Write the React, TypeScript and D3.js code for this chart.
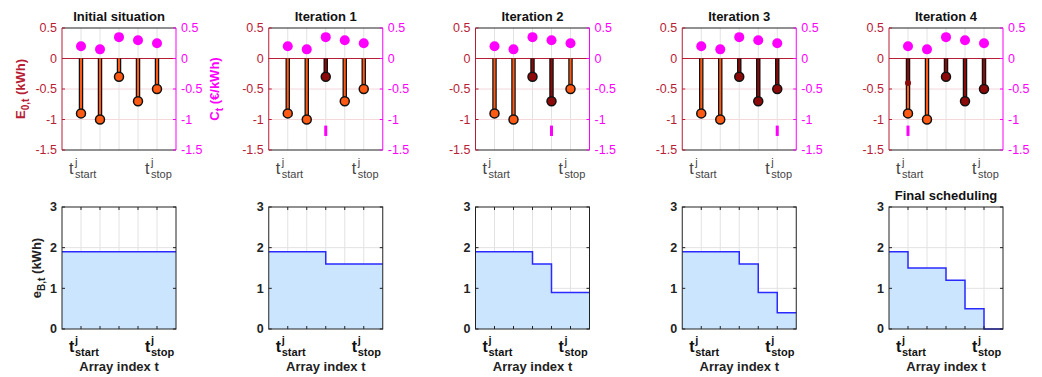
import React, { useEffect, useRef } from 'react';
import * as d3 from 'd3';

// data
const topTitles = ['Initial situation', 'Iteration 1', 'Iteration 2', 'Iteration 3', 'Iteration 4'];
const bottomTitles = ['', '', '', '', 'Final scheduling'];
const slots = [1, 2, 3, 4, 5];
const energy = [-0.9, -1, -0.3, -0.7, -0.5];
const price = [0.2, 0.15, 0.35, 0.3, 0.25];
const scheduled = [[], [3], [3, 4], [3, 4, 5], [3, 4, 5]];
const selected = [null, 3, 4, 5, 1];
const partialSlot = [null, null, null, null, 1];
const partialValue = [null, null, null, null, -0.4];
const storage = [
  [1.9, 1.9, 1.9, 1.9, 1.9, 1.9],
  [1.9, 1.9, 1.9, 1.6, 1.6, 1.6],
  [1.9, 1.9, 1.9, 1.6, 0.9, 0.9],
  [1.9, 1.9, 1.9, 1.6, 0.9, 0.4],
  [1.9, 1.5, 1.5, 1.2, 0.5, 0],
];
const topTicks = [0.5, 0, -0.5, -1, -1.5];
const bottomTicks = [0, 1, 2, 3];

const RED = '#b81d36';
const MAGENTA = '#ff00ff';
const ORANGE = '#ff5a14';
const DARKRED = '#8c0a0a';
const FONT = '"Liberation Sans", Arial, sans-serif';

export default function App() {
  const ref = useRef<SVGSVGElement>(null);

  useEffect(() => {
    draw();
  }, []);

  function tLabel(g: any, x: number, y: number, sub: string, bold: boolean) {
    const color = bold ? '#111' : '#444';
    const w = bold ? 'bold' : 'normal';
    g.append('text').attr('x', x - 12).attr('y', y).attr('font-size', 16).attr('font-weight', w).attr('fill', color).text('t');
    g.append('text').attr('x', x - 6).attr('y', y - 8).attr('font-size', 11).attr('font-weight', w).attr('fill', color).text('j');
    g.append('text').attr('x', x - 6).attr('y', y + 4).attr('font-size', 11).attr('font-weight', w).attr('fill', color).text(sub);
  }

  function draw() {
    const svg = d3.select(ref.current);
    svg.selectAll('*').remove();
    svg.attr('font-family', FONT);
    const panelX = d3.scaleLinear().domain([0, 4]).range([62, 889]);
    const pw = 114;
    const yTop = d3.scaleLinear().domain([-1.5, 0.5]).range([150, 28]);
    const yBot = d3.scaleLinear().domain([0, 3]).range([329, 207]);

    topTitles.forEach((title, p) => {
      const left = panelX(p);
      const x = d3.scaleLinear().domain([0, 6]).range([left, left + pw]);
      const g = svg.append('g');
      // grid
      slots.forEach((s) => {
        g.append('line').attr('x1', x(s)).attr('x2', x(s)).attr('y1', yTop(0.5)).attr('y2', yTop(-1.5))
          .attr('stroke', '#e2e2e2').attr('stroke-width', 1);
      });
      [-0.5, -1].forEach((v) => {
        g.append('line').attr('x1', x(0)).attr('x2', x(6)).attr('y1', yTop(v)).attr('y2', yTop(v))
          .attr('stroke', '#f3d8dc').attr('stroke-width', 1);
      });
      // zero line
      g.append('line').attr('x1', x(0)).attr('x2', x(6)).attr('y1', yTop(0)).attr('y2', yTop(0))
        .attr('stroke', RED).attr('stroke-width', 1.2);
      // box
      g.append('line').attr('x1', x(0)).attr('x2', x(6)).attr('y1', yTop(0.5)).attr('y2', yTop(0.5)).attr('stroke', '#222');
      g.append('line').attr('x1', x(0)).attr('x2', x(6)).attr('y1', yTop(-1.5)).attr('y2', yTop(-1.5)).attr('stroke', '#222');
      g.append('line').attr('x1', x(0)).attr('x2', x(0)).attr('y1', yTop(0.5)).attr('y2', yTop(-1.5)).attr('stroke', RED);
      g.append('line').attr('x1', x(6)).attr('x2', x(6)).attr('y1', yTop(0.5)).attr('y2', yTop(-1.5)).attr('stroke', MAGENTA);
      // ticks
      topTicks.forEach((v) => {
        g.append('line').attr('x1', x(0)).attr('x2', x(0) + 3).attr('y1', yTop(v)).attr('y2', yTop(v)).attr('stroke', RED);
        g.append('line').attr('x1', x(6)).attr('x2', x(6) - 3).attr('y1', yTop(v)).attr('y2', yTop(v)).attr('stroke', MAGENTA);
        g.append('text').attr('x', x(0) - 5).attr('y', yTop(v)).attr('dy', '0.35em').attr('text-anchor', 'end')
          .attr('font-size', 12.5).attr('fill', RED).text(v);
        g.append('text').attr('x', x(6) + 5).attr('y', yTop(v)).attr('dy', '0.35em').attr('text-anchor', 'start')
          .attr('font-size', 12.5).attr('fill', MAGENTA).text(v);
      });
      // prices
      g.selectAll('circle.price').data(price).enter().append('circle')
        .attr('cx', (d, i) => x(slots[i])).attr('cy', (d) => yTop(d)).attr('r', 5).attr('fill', MAGENTA);
      // stems
      energy.forEach((v, i) => {
        const s = slots[i];
        const done = scheduled[p].includes(s);
        g.append('line').attr('x1', x(s)).attr('x2', x(s)).attr('y1', yTop(0)).attr('y2', yTop(v))
          .attr('stroke', '#111').attr('stroke-width', 4.5);
        if (partialSlot[p] === s) {
          const pv = partialValue[p] as number;
          g.append('line').attr('x1', x(s)).attr('x2', x(s)).attr('y1', yTop(0)).attr('y2', yTop(pv))
            .attr('stroke', DARKRED).attr('stroke-width', 2);
          g.append('line').attr('x1', x(s)).attr('x2', x(s)).attr('y1', yTop(pv)).attr('y2', yTop(v))
            .attr('stroke', ORANGE).attr('stroke-width', 2);
          g.append('circle').attr('cx', x(s)).attr('cy', yTop(pv)).attr('r', 3).attr('fill', DARKRED);
        } else {
          g.append('line').attr('x1', x(s)).attr('x2', x(s)).attr('y1', yTop(0)).attr('y2', yTop(v))
            .attr('stroke', done ? DARKRED : ORANGE).attr('stroke-width', 2);
        }
        g.append('circle').attr('cx', x(s)).attr('cy', yTop(v)).attr('r', 4.5)
          .attr('fill', done ? DARKRED : ORANGE).attr('stroke', '#111').attr('stroke-width', 1.5);
      });
      // selected slot marker
      if (selected[p] !== null) {
        const s = selected[p] as number;
        g.append('line').attr('x1', x(s)).attr('x2', x(s)).attr('y1', yTop(-1.1)).attr('y2', yTop(-1.27))
          .attr('stroke', MAGENTA).attr('stroke-width', 3);
      }
      g.append('text').attr('x', left + pw / 2).attr('y', 21).attr('text-anchor', 'middle')
        .attr('font-size', 13).attr('font-weight', 'bold').attr('fill', '#111').text(title);
      tLabel(g, x(1), 174, 'start', false);
      tLabel(g, x(5), 174, 'stop', false);

      // bottom panel
      const gb = svg.append('g');
      slots.forEach((s) => {
        gb.append('line').attr('x1', x(s)).attr('x2', x(s)).attr('y1', yBot(3)).attr('y2', yBot(0))
          .attr('stroke', '#e2e2e2');
      });
      [1, 2].forEach((v) => {
        gb.append('line').attr('x1', x(0)).attr('x2', x(6)).attr('y1', yBot(v)).attr('y2', yBot(v))
          .attr('stroke', '#e2e2e2');
      });
      const pts = storage[p].map((v, i) => [i, v] as [number, number]);
      pts.push([6, storage[p][5]]);
      const area = d3.area<[number, number]>().x((d) => x(d[0])).y0(yBot(0)).y1((d) => yBot(d[1])).curve(d3.curveStepAfter);
      const line = d3.line<[number, number]>().x((d) => x(d[0])).y((d) => yBot(d[1])).curve(d3.curveStepAfter);
      gb.append('path').attr('d', area(pts)).attr('fill', '#cce5ff');
      gb.append('path').attr('d', line(pts)).attr('fill', 'none').attr('stroke', '#2a2aff').attr('stroke-width', 1.5);
      gb.append('rect').attr('x', x(0)).attr('y', yBot(3)).attr('width', pw).attr('height', yBot(0) - yBot(3))
        .attr('fill', 'none').attr('stroke', '#222');
      slots.forEach((s) => {
        gb.append('line').attr('x1', x(s)).attr('x2', x(s)).attr('y1', yBot(0)).attr('y2', yBot(0) - 3).attr('stroke', '#222');
        gb.append('line').attr('x1', x(s)).attr('x2', x(s)).attr('y1', yBot(3)).attr('y2', yBot(3) + 3).attr('stroke', '#222');
      });
      bottomTicks.forEach((v) => {
        gb.append('line').attr('x1', x(0)).attr('x2', x(0) + 3).attr('y1', yBot(v)).attr('y2', yBot(v)).attr('stroke', '#222');
        gb.append('line').attr('x1', x(6)).attr('x2', x(6) - 3).attr('y1', yBot(v)).attr('y2', yBot(v)).attr('stroke', '#222');
        gb.append('text').attr('x', x(0) - 5).attr('y', yBot(v)).attr('dy', '0.35em').attr('text-anchor', 'end')
          .attr('font-size', 12.5).attr('font-weight', 'bold').attr('fill', '#222').text(v);
      });
      if (bottomTitles[p]) {
        gb.append('text').attr('x', left + pw / 2).attr('y', 200).attr('text-anchor', 'middle')
          .attr('font-size', 13).attr('font-weight', 'bold').attr('fill', '#111').text(bottomTitles[p]);
      }
      tLabel(gb, x(1), 352, 'start', true);
      tLabel(gb, x(5), 352, 'stop', true);
      gb.append('text').attr('x', left + pw / 2).attr('y', 371).attr('text-anchor', 'middle')
        .attr('font-size', 13).attr('font-weight', 'bold').attr('fill', '#222').text('Array index t');
    });

    // axis titles
    const e = svg.append('text').attr('transform', 'translate(25,89) rotate(-90)').attr('text-anchor', 'middle')
      .attr('font-size', 13).attr('font-weight', 'bold').attr('fill', RED);
    e.append('tspan').text('E');
    e.append('tspan').attr('dy', 4).attr('font-size', 10).text('0,t');
    e.append('tspan').attr('dy', -4).text(' (kWh)');
    const c = svg.append('text').attr('transform', 'translate(219,89) rotate(-90)').attr('text-anchor', 'middle')
      .attr('font-size', 13).attr('font-weight', 'bold').attr('fill', MAGENTA);
    c.append('tspan').text('C');
    c.append('tspan').attr('dy', 4).attr('font-size', 10).text('t');
    c.append('tspan').attr('dy', -4).text(' (€/kWh)');
    const b = svg.append('text').attr('transform', 'translate(41,268) rotate(-90)').attr('text-anchor', 'middle')
      .attr('font-size', 13).attr('font-weight', 'bold').attr('fill', '#222');
    b.append('tspan').text('e');
    b.append('tspan').attr('dy', 4).attr('font-size', 10).text('B,t');
    b.append('tspan').attr('dy', -4).text(' (kWh)');
  }

  return (
    <svg ref={ref} width={1042} height={377} style={{ position: 'absolute', left: 0, top: 0, background: '#fff' }} />
  );
}
